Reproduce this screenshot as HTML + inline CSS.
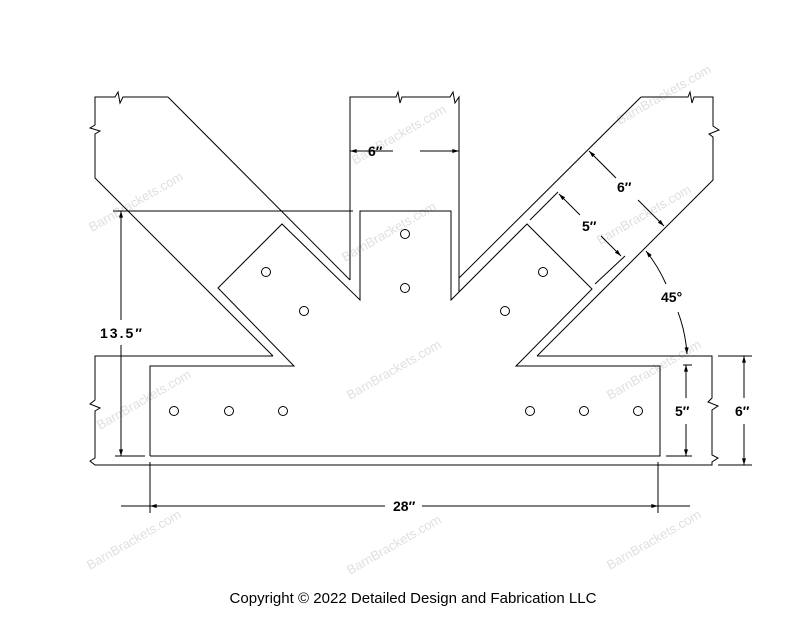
<!DOCTYPE html>
<html><head><meta charset="utf-8"><style>
html,body{margin:0;padding:0;background:#fff;width:800px;height:618px;overflow:hidden}
svg{display:block}
text{font-family:"Liberation Sans",sans-serif}
</style></head><body>
<svg width="800" height="618" viewBox="0 0 800 618" xmlns="http://www.w3.org/2000/svg">
<defs>
<marker id="a" viewBox="0 0 10 6" refX="10" refY="3" markerWidth="7" markerHeight="4" orient="auto-start-reverse" markerUnits="userSpaceOnUse"><path d="M0,0L10,3L0,6z" fill="#000"/></marker>
</defs>
<g fill="#d8d8d8" font-size="13" opacity="0.8">
<text transform="translate(92,232) rotate(-30)">BarnBrackets.com</text>
<text transform="translate(345,262) rotate(-30)">BarnBrackets.com</text>
<text transform="translate(355,165) rotate(-30)">BarnBrackets.com</text>
<text transform="translate(600,245) rotate(-30)">BarnBrackets.com</text>
<text transform="translate(100,430) rotate(-30)">BarnBrackets.com</text>
<text transform="translate(350,400) rotate(-30)">BarnBrackets.com</text>
<text transform="translate(610,400) rotate(-30)">BarnBrackets.com</text>
<text transform="translate(90,570) rotate(-30)">BarnBrackets.com</text>
<text transform="translate(350,575) rotate(-30)">BarnBrackets.com</text>
<text transform="translate(610,570) rotate(-30)">BarnBrackets.com</text>
<text transform="translate(620,125) rotate(-30)">BarnBrackets.com</text>
</g>
<g fill="none" stroke="#000" stroke-width="1">
<polyline points="168,97 123,97 120,103 118,92 115,97 95,97 95,125 90,128 100,131 95,134 95,178 273,356"/>
<line x1="168" y1="97" x2="350" y2="280"/>
<polyline points="350,280 350,97 396,97 398,92 400,103 402,97 450,97 453,92 455,103 459,97 459,292"/>
<line x1="459" y1="278" x2="641" y2="97"/>
<polyline points="641,97 688,97 690,92 692,103 694,97 713,97 713,126 719,130 709,134 713,137 713,180 537,356"/>
<polyline points="273,356 95,356 95,400 90,404 100,408 95,411 95,458 90,461 95,465 712,465 712,462 718,458 712,455 712,410 718,406 708,402 712,398 712,356 537,356"/>
<polyline points="150,456 150,366 294,366 218,288 282,224 360,300 360,211 451,211 451,300 527,224 592,289 516,366 660,366 660,456 150,456"/>
<circle cx="405" cy="234" r="4.5"/><circle cx="405" cy="288" r="4.5"/>
<circle cx="266" cy="272" r="4.5"/><circle cx="304" cy="311" r="4.5"/>
<circle cx="543" cy="272" r="4.5"/><circle cx="505" cy="311" r="4.5"/>
<circle cx="174" cy="411" r="4.5"/><circle cx="229" cy="411" r="4.5"/><circle cx="283" cy="411" r="4.5"/>
<circle cx="530" cy="411" r="4.5"/><circle cx="584" cy="411" r="4.5"/><circle cx="638" cy="411" r="4.5"/>
<line x1="113" y1="211" x2="353" y2="211"/>
<line x1="115" y1="456" x2="145" y2="456"/>
<line x1="121" y1="320" x2="121" y2="211" marker-end="url(#a)"/>
<line x1="121" y1="345" x2="121" y2="456" marker-end="url(#a)"/>
<line x1="365" y1="151" x2="350" y2="151" marker-end="url(#a)"/>
<line x1="393" y1="151" x2="365" y2="151"/>
<line x1="420" y1="151" x2="459" y2="151" marker-end="url(#a)"/>
<line x1="150" y1="462" x2="150" y2="513"/>
<line x1="658" y1="462" x2="658" y2="513"/>
<line x1="121" y1="506" x2="150" y2="506"/>
<line x1="385" y1="506" x2="150" y2="506" marker-end="url(#a)"/>
<line x1="422" y1="506" x2="658" y2="506" marker-end="url(#a)"/>
<line x1="658" y1="506" x2="690" y2="506"/>
<line x1="666" y1="456" x2="692" y2="456"/>
<line x1="683" y1="365" x2="692" y2="365"/>
<line x1="686" y1="398" x2="686" y2="365" marker-end="url(#a)"/>
<line x1="686" y1="424" x2="686" y2="456" marker-end="url(#a)"/>
<line x1="718" y1="356" x2="752" y2="356"/>
<line x1="718" y1="465" x2="752" y2="465"/>
<line x1="744" y1="398" x2="744" y2="356" marker-end="url(#a)"/>
<line x1="744" y1="424" x2="744" y2="465" marker-end="url(#a)"/>
<line x1="616" y1="178" x2="589" y2="151" marker-end="url(#a)"/>
<line x1="638" y1="200" x2="664" y2="226" marker-end="url(#a)"/>
<line x1="530" y1="220" x2="558" y2="192"/>
<line x1="595" y1="284" x2="625" y2="256"/>
<line x1="580" y1="215" x2="559" y2="194" marker-end="url(#a)"/>
<line x1="601" y1="236" x2="621" y2="256" marker-end="url(#a)"/>
<path d="M666,284 A150,150 0 0 0 646,251" marker-end="url(#a)"/>
<path d="M678,312 A150,150 0 0 1 687,354" marker-end="url(#a)"/>
</g>
<g font-weight="bold" font-size="14" fill="#000">
<text x="368" y="156">6″</text>
<text x="100" y="338" letter-spacing="2">13.5″</text>
<text x="393" y="511">28″</text>
<text x="675" y="416">5″</text>
<text x="735" y="416">6″</text>
<text x="617" y="192">6″</text>
<text x="582" y="231">5″</text>
<text x="661" y="302">45°</text>
</g>
<text x="413" y="603" text-anchor="middle" font-size="15" font-family="'DejaVu Sans',sans-serif" textLength="367" lengthAdjust="spacingAndGlyphs">Copyright © 2022 Detailed Design and Fabrication LLC</text>
</svg>
</body></html>
